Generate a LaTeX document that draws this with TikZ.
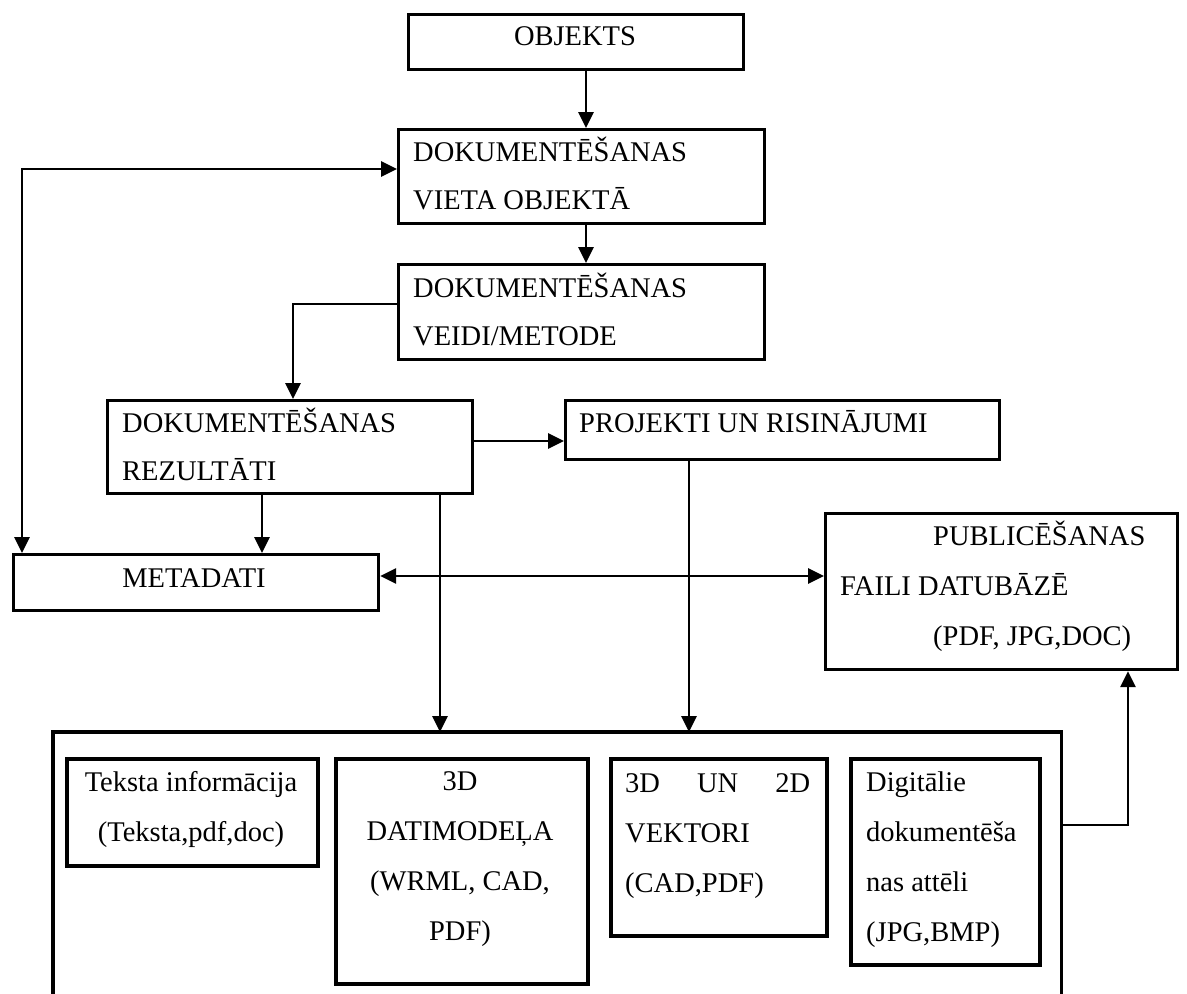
\documentclass[tikz,border=0pt]{standalone}
\usepackage{fontspec}
\setmainfont{Liberation Serif}
\usetikzlibrary{arrows.meta}

\begin{document}
\begin{tikzpicture}[x=1pt,y=-1pt,
  box/.style={draw, line width=3.2pt, rectangle, inner sep=0pt, anchor=north west},
  innerbox/.style={box, line width=3.6pt},
  lbl/.style={inner sep=0pt, font=\fontsize{28.5}{48.5}\selectfont},
  lblwide/.style={inner sep=0pt, font=\fontsize{28.5}{50}\selectfont},
  link/.style={line width=2.8pt, -{Triangle[length=16pt,width=15pt]}},
  twoway/.style={line width=2.8pt, {Triangle[length=16pt,width=15pt]}-{Triangle[length=16pt,width=15pt]}},
  frame/.style={line width=3.2pt}
]
\fill[white] (0,0) rectangle (1187,994);
\useasboundingbox (0,0) rectangle (1187,994);

% ---- boxes ----
\node[box, minimum width=335pt, minimum height=55pt] (objekts) at (407,13) {};
\node[box, minimum width=366pt, minimum height=94pt] (dok1) at (397,128) {};
\node[box, minimum width=366pt, minimum height=95pt] (dok2) at (397,263) {};
\node[box, minimum width=365pt, minimum height=93pt] (rez) at (106,399) {};
\node[box, minimum width=434pt, minimum height=59pt] (proj) at (564,399) {};
\node[box, minimum width=365pt, minimum height=56pt] (meta) at (12,553) {};
\node[box, minimum width=352pt, minimum height=156pt] (pub) at (824,512) {};

% open container at the bottom (no lower edge)
\node[anchor=north west, inner sep=0pt, minimum width=1008pt, minimum height=280pt] (outer) at (53,732) {};
\draw[frame] (outer.south west) -- (outer.north west) -- (outer.north east) -- (outer.south east);

\node[innerbox, minimum width=251pt, minimum height=107pt] (teksta) at (65,757) {};
\node[innerbox, minimum width=252pt, minimum height=225pt] (model) at (334,757) {};
\node[innerbox, minimum width=216pt, minimum height=177pt] (vekt) at (609,757) {};
\node[innerbox, minimum width=189pt, minimum height=206pt] (digit) at (849,757) {};

% ---- texts (base anchor = baseline of the last line) ----
\node[lbl, anchor=base] (objekts-t) at (575,45) {OBJEKTS};
\node[lbl, anchor=base west, align=left] (dok1-t) at (413,209.5) {DOKUMENTĒŠANAS\\VIETA OBJEKTĀ};
\node[lbl, anchor=base west, align=left] (dok2-t) at (413,345.5) {DOKUMENTĒŠANAS\\VEIDI/METODE};
\node[lbl, anchor=base west, align=left] (rez-t) at (122,480.5) {DOKUMENTĒŠANAS\\REZULTĀTI};
\node[lbl, anchor=base west] (proj-t) at (579,432) {PROJEKTI UN RISINĀJUMI};
\node[lbl, anchor=base] (meta-t) at (194,587) {METADATI};
\node[lblwide, anchor=base west, align=left] (pub-t) at (840,645)
  {\hspace*{93pt}PUBLICĒŠANAS\\FAILI DATUBĀZĒ\\\hspace*{93pt}(PDF, JPG,DOC)};
\node[lblwide, anchor=base, align=center] (teksta-t) at (191,841)
  {Teksta informācija\\(Teksta,pdf,doc)};
\node[lblwide, anchor=base, align=center] (model-t) at (460,940)
  {3D\\DATIMODEĻA\\(WRML, CAD,\\PDF)};
\node[lblwide, anchor=base west, align=left] (vekt-t) at (625,892)
  {\makebox[185pt][l]{3D\hfill UN\hfill 2D}\\VEKTORI\\(CAD,PDF)};
\node[lblwide, anchor=base west, align=left] (digit-t) at (866,941)
  {Digitālie\\dokumentēša\\nas attēli\\(JPG,BMP)};

% ---- connector guide lines ----
\coordinate (colA) at (586,0);
\coordinate (colB) at (293,0);
\coordinate (rowB) at (0,304);
\coordinate (rowC) at (0,441);
\coordinate (colD) at (262,0);
\coordinate (colE) at (440,0);
\coordinate (colF) at (689,0);
\coordinate (colG) at (22,0);
\coordinate (rowH) at (0,169);
\coordinate (rowI) at (0,576);
\coordinate (rowJ) at (0,825);
\coordinate (colK) at (1128,0);

% ---- connectors ----
\draw[link] (objekts.south -| colA) -- (dok1.north -| colA);
\draw[link] (dok1.south -| colA) -- (dok2.north -| colA);
\draw[link] (dok2.west |- rowB) -| (rez.north -| colB);
\draw[link] (rez.east |- rowC) -- (proj.west |- rowC);
\draw[link] (rez.south -| colD) -- (meta.north -| colD);
\draw[link] (rez.south -| colE) -- (outer.north -| colE);
\draw[link] (proj.south -| colF) -- (outer.north -| colF);
\draw[twoway] (dok1.west |- rowH) -| (meta.north -| colG);
\draw[twoway] (meta.east |- rowI) -- (pub.west |- rowI);
\draw[link] (outer.east |- rowJ) -| (pub.south -| colK);
\end{tikzpicture}
\end{document}
